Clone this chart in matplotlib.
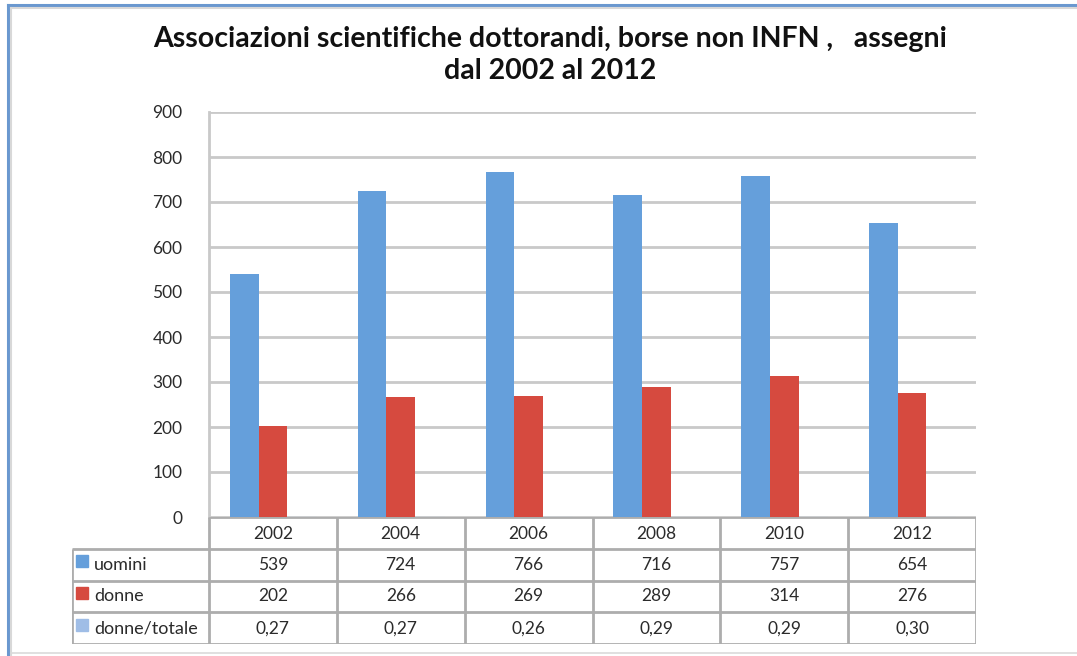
import numpy as np
import matplotlib.pyplot as plt
from matplotlib.lines import Line2D

plt.rcParams['font.family'] = ['Lato', 'DejaVu Sans']

# data
anni = ['2002', '2004', '2006', '2008', '2010', '2012']
uomini = [539, 724, 766, 716, 757, 654]
donne = [202, 266, 269, 289, 314, 276]
donne_totale = [0.27, 0.27, 0.26, 0.29, 0.29, 0.30]
rapporto_txt = ['0,27', '0,27', '0,26', '0,29', '0,29', '0,30']
serie_nomi = ['uomini', 'donne', 'donne/totale']
yticks = [0, 100, 200, 300, 400, 500, 600, 700, 800, 900]

c_blu = '#659FDB'
c_rosso = '#D64A3F'
c_azzurro = '#9FBDE6'
c_griglia = '#C9C9C9'
c_tab = '#ADADAD'
c_testo = '#2B2B2B'
fs = 12.5

W, H = 1077, 656
fig = plt.figure(figsize=(W / 100, H / 100), dpi=100)


def fx(px):
    return px / W


def fy(py):
    return 1 - py / H


# frame of the chart object
fig.add_artist(Line2D([fx(8), fx(8)], [fy(5), fy(656)], color='#6A98CF', lw=2.2))
fig.add_artist(Line2D([fx(8), fx(1077)], [fy(5), fy(5)], color='#6A98CF', lw=2.2))
fig.add_artist(Line2D([fx(11), fx(11)], [fy(8), fy(656)], color='#D8D8D8', lw=1.5))
fig.add_artist(Line2D([fx(11), fx(1077)], [fy(8), fy(8)], color='#D8D8D8', lw=1.5))
fig.add_artist(Line2D([fx(11), fx(1077)], [fy(653), fy(653)], color='#DADADA', lw=1.2))

# main plot
left, right, top, bottom = 209, 976, 112, 517
ax = fig.add_axes([fx(left), fy(bottom), fx(right - left), (bottom - top) / H])
x = np.arange(len(anni))
bw = 0.224
ax.bar(x - bw, uomini, bw, color=c_blu, zorder=3)
ax.bar(x, donne, bw, color=c_rosso, zorder=3)
ax.bar(x + bw, donne_totale, bw, color=c_azzurro, edgecolor=c_azzurro, lw=0.8, zorder=3)

ax.set_xlim(-0.5, len(anni) - 0.5)
ax.set_ylim(0, 900)
ax.set_yticks(yticks)
ax.set_yticklabels([str(v) for v in yticks], fontsize=fs, color=c_testo)
ax.tick_params(axis='y', length=0, pad=19)
ax.set_xticks([])
ax.grid(axis='y', color=c_griglia, lw=2, zorder=0)
for s in ['top', 'right', 'bottom']:
    ax.spines[s].set_visible(False)
ax.spines['left'].set_color(c_griglia)
ax.spines['left'].set_linewidth(2)

# data table under the plot
cat_w = (right - left) / len(anni)
lab_left = 72
lab_w = (left - lab_left) / cat_w
tab_bottom = 644
axt = fig.add_axes([fx(lab_left), fy(tab_bottom), fx(right - lab_left), (tab_bottom - bottom) / H])
axt.set_xlim(-0.5 - lab_w, len(anni) - 0.5)
axt.set_ylim(4, 0)
axt.axis('off')

n = len(anni)
edges = np.arange(n + 1) - 0.5
# horizontal lines
axt.hlines(0, -0.5, n - 0.5, color=c_tab, lw=2)
for r in [1, 2, 3, 4]:
    axt.hlines(r, -0.5 - lab_w, n - 0.5, color=c_tab, lw=2)
# vertical lines
for e in edges:
    axt.vlines(e, 0, 4, color=c_tab, lw=2)
axt.vlines(-0.5 - lab_w, 1, 4, color=c_tab, lw=2)

for i, a in enumerate(anni):
    axt.text(i, 0.55, a, ha='center', va='center', fontsize=fs, color=c_testo)
    axt.text(i, 1.5, str(uomini[i]), ha='center', va='center', fontsize=fs, color=c_testo)
    axt.text(i, 2.5, str(donne[i]), ha='center', va='center', fontsize=fs, color=c_testo)
    axt.text(i, 3.5, rapporto_txt[i], ha='center', va='center', fontsize=fs, color=c_testo)

for r, (nome, col) in enumerate(zip(serie_nomi, [c_blu, c_rosso, c_azzurro])):
    axt.plot(-0.5 - lab_w + 0.075, r + 1.4, marker='s', ms=8, color=col, ls='none')
    axt.text(-0.5 - lab_w + 0.175, r + 1.5, nome, ha='left', va='center', fontsize=13, color=c_testo)

fig.text(fx(550), fy(55), 'Associazioni scientifiche dottorandi, borse non INFN ,   assegni\ndal 2002 al 2012',
         ha='center', va='center', fontsize=20.5, fontweight='bold', color='#111111', linespacing=1.3)

fig.savefig('out.png', dpi=100)
